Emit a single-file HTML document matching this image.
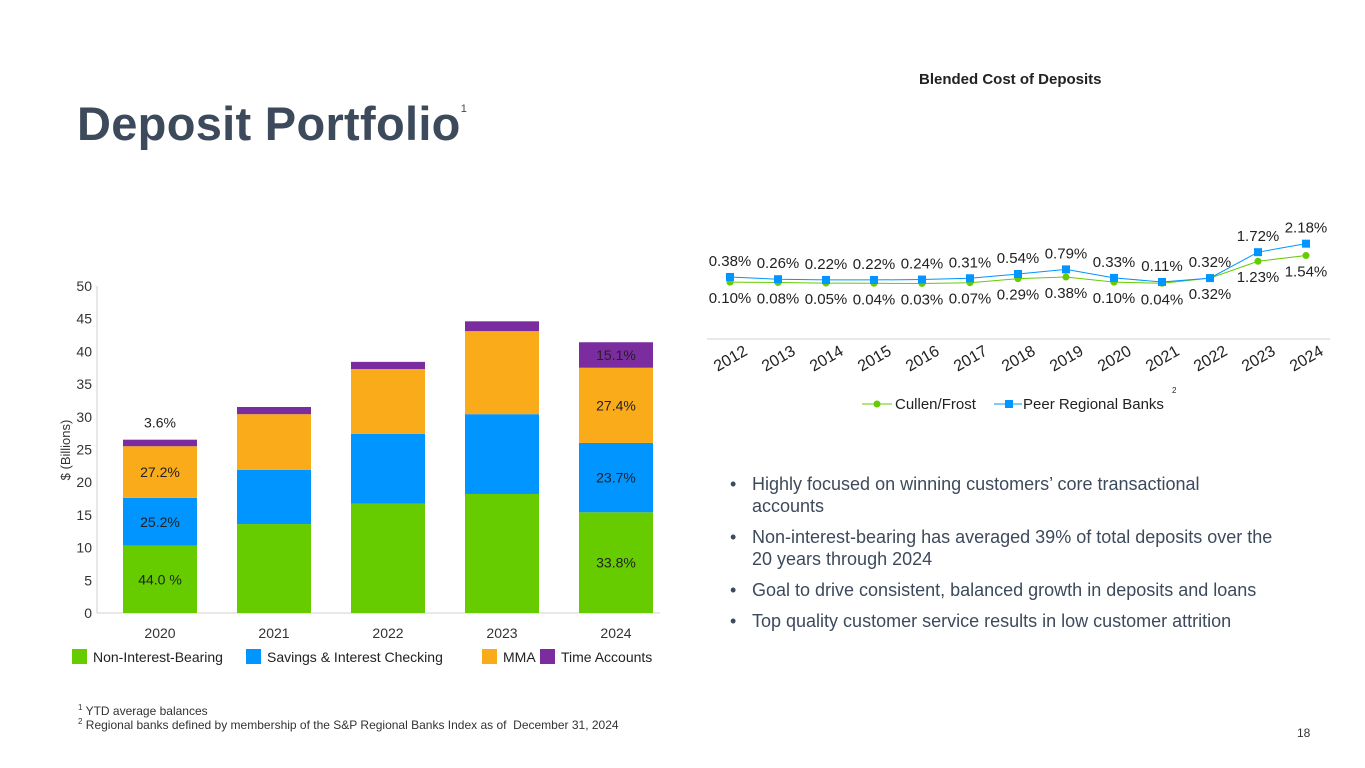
<!DOCTYPE html>
<html><head><meta charset="utf-8"><style>
body{margin:0;width:1365px;height:768px;background:#fff;font-family:"Liberation Sans",sans-serif;overflow:hidden;position:relative;color:#3d4a5c}
.t{position:absolute;white-space:nowrap}
ul{margin:0;padding:0;list-style:none}
li{position:relative;padding-left:22px;margin-bottom:9px;line-height:22px;white-space:nowrap}
li:before{content:"•";position:absolute;left:0;top:0}
</style></head><body>
<div class="t" style="left:77px;top:96px;font-size:47px;font-weight:bold;color:#3d4a5c;letter-spacing:0.3px">Deposit Portfolio<sup style="font-size:11px;font-weight:normal;vertical-align:28px">1</sup></div>
<div class="t" style="left:919px;top:71px;font-size:15px;font-weight:bold;color:#222">Blended Cost of Deposits</div>
<svg id="bar" width="1365" height="768" style="position:absolute;left:0;top:0"></svg>
<ul style="position:absolute;left:730px;top:473px;width:600px;font-size:18px;color:#3d4a5c">
<li>Highly focused on winning customers’ core transactional<br>accounts</li>
<li>Non-interest-bearing has averaged 39% of total deposits over the<br>20 years through 2024</li>
<li>Goal to drive consistent, balanced growth in deposits and loans</li>
<li>Top quality customer service results in low customer attrition</li>
</ul>
<div class="t" style="left:78px;top:703px;font-size:12px;color:#333"><sup style="font-size:8px">1</sup> YTD average balances</div>
<div class="t" style="left:78px;top:717px;font-size:12px;color:#333"><sup style="font-size:8px">2</sup> Regional banks defined by membership of the S&amp;P Regional Banks Index as of &nbsp;December 31, 2024</div>
<div class="t" style="left:1297px;top:726px;font-size:12px;color:#333">18</div>
<script>
const years=["2020","2021","2022","2023","2024"];
const nib=[10.3,13.6,16.7,18.2,15.4];
const sav=[7.3,8.3,10.7,12.2,10.6];
const mma=[7.9,8.5,9.9,12.7,11.5];
const timeAcc=[1.0,1.1,1.1,1.5,3.9];
const yTicks=[0,5,10,15,20,25,30,35,40,45,50];
const barLabels=[["44.0 %","25.2%","27.2%","3.6%"],[],[],[],["33.8%","23.7%","27.4%","15.1%"]];
const lineYears=["2012","2013","2014","2015","2016","2017","2018","2019","2020","2021","2022","2023","2024"];
const cullen=[0.10,0.08,0.05,0.04,0.03,0.07,0.29,0.38,0.10,0.04,0.32,1.23,1.54];
const peer=[0.38,0.26,0.22,0.22,0.24,0.31,0.54,0.79,0.33,0.11,0.32,1.72,2.18];
const NS="http://www.w3.org/2000/svg";
const svg=document.getElementById('bar');
function mk(tag,attrs,txt){const e=document.createElementNS(NS,tag);for(const k in attrs)e.setAttribute(k,attrs[k]);if(txt!==undefined)e.textContent=txt;svg.appendChild(e);return e;}
const y=v=>613-v*6.54;
const x=i=>160+i*114;
const bw=74;
let e;
e=mk('line',{x1:97,y1:286,x2:97,y2:613,stroke:'#d0d0d0'});


e=mk('line',{x1:97,y1:613,x2:660,y2:613,stroke:'#d0d0d0'});


yTicks.forEach(t=>{e=mk('text',{x:92,y:y(t)+5,'text-anchor':'end','font-size':14,fill:'#333'},t);

});
e=mk('text',{x:0,y:0,transform:'translate(70,450) rotate(-90)','text-anchor':'middle','font-size':13,fill:'#333'},'$ (Billions)');


const series=[[nib,'#66cc00','non-interest-bearing'],[sav,'#0095ff','savings-interest-checking'],[mma,'#faab1a','mma'],[timeAcc,'#7b2c9e','time-accounts']];
years.forEach((yr,i)=>{let base=0;
series.forEach((s,k)=>{const v=s[0][i];
e=mk('rect',{x:x(i)-bw/2,y:y(base+v),width:bw,height:y(base)-y(base+v),fill:s[1]});


const lb=barLabels[i][k];
if(lb){let ly=(y(base)+y(base+v))/2+5; if(i===0&&k===3)ly=y(base+v)-12;
e=mk('text',{x:x(i),y:ly,'text-anchor':'middle','font-size':14,fill:'#222'},lb);

}
base+=v;});
e=mk('text',{x:x(i),y:638,'text-anchor':'middle','font-size':14,fill:'#333'},yr);

});
const leg=[[72,'Non-Interest-Bearing'],[246,'Savings & Interest Checking'],[482,'MMA'],[540,'Time Accounts']];
leg.forEach((l,k)=>{e=mk('rect',{x:l[0],y:649,width:15,height:15,fill:series[k][1]});


e=mk('text',{x:l[0]+21,y:662,'font-size':14,fill:'#222'},l[1]);

});
// line chart
const lx=i=>730+i*48;
const ly=v=>284-v*18.5;
e=mk('line',{x1:707,y1:339,x2:1330,y2:339,stroke:'#d0d0d0'});


lineYears.forEach((yr,i)=>{e=mk('text',{x:0,y:0,transform:`translate(${lx(i)+3},${363}) rotate(-30)`,'text-anchor':'middle','font-size':16,fill:'#222'},yr);

});
e=mk('polyline',{points:cullen.map((v,i)=>lx(i)+','+ly(v)).join(' '),fill:'none',stroke:'#66cc00','stroke-width':1});


e=mk('polyline',{points:peer.map((v,i)=>lx(i)+','+ly(v)).join(' '),fill:'none',stroke:'#0095ff','stroke-width':1});


cullen.forEach((v,i)=>{e=mk('circle',{cx:lx(i),cy:ly(v),r:3.5,fill:'#66cc00'});


e=mk('text',{x:lx(i),y:ly(v)+21,'text-anchor':'middle','font-size':15,fill:'#222'},v.toFixed(2)+'%');

});
peer.forEach((v,i)=>{e=mk('rect',{x:lx(i)-4,y:ly(v)-4,width:8,height:8,fill:'#0095ff'});


e=mk('text',{x:lx(i),y:ly(v)-11,'text-anchor':'middle','font-size':15,fill:'#222'},v.toFixed(2)+'%');

});
e=mk('line',{x1:862,y1:404,x2:892,y2:404,stroke:'#66cc00'});


e=mk('circle',{cx:877,cy:404,r:3.5,fill:'#66cc00'});


e=mk('text',{x:895,y:409,'font-size':15,fill:'#222'},'Cullen/Frost');


e=mk('line',{x1:994,y1:404,x2:1022,y2:404,stroke:'#0095ff'});


e=mk('rect',{x:1005,y:400,width:8,height:8,fill:'#0095ff'});


e=mk('text',{x:1023,y:409,'font-size':15,fill:'#222'},'Peer Regional Banks');


e=mk('text',{x:1172,y:393,'font-size':8,fill:'#222'},'2');


</script>
</body></html>
